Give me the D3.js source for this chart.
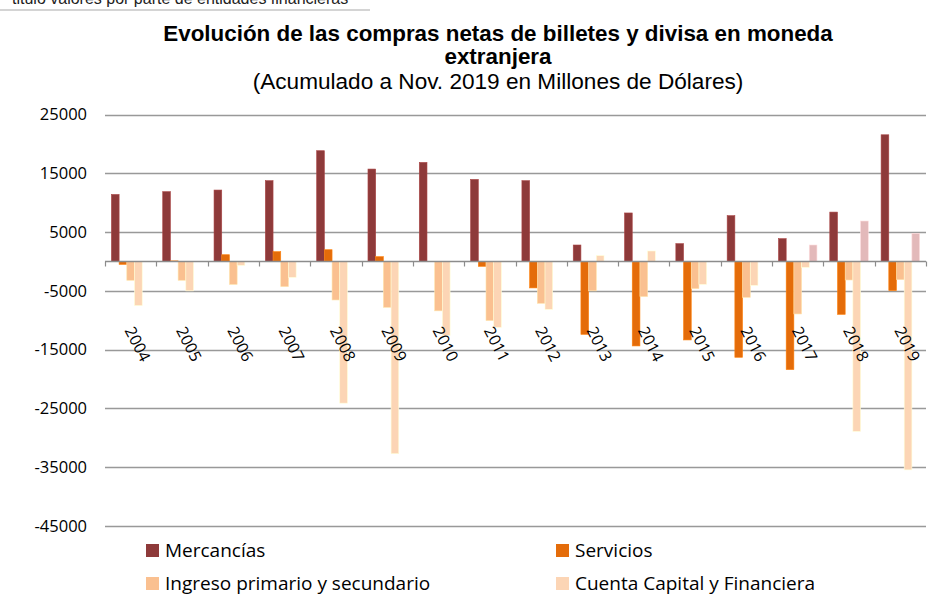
<!DOCTYPE html>
<html>
<head>
<meta charset="utf-8">
<script src="https://cdn.jsdelivr.net/npm/d3@7"></script>
<style>
  body { margin: 0; background: #fff; }
  svg { display: block; }
</style>
</head>
<body>
<svg id="chart" width="935" height="596"></svg>
<script>
// years on the x axis
var years = ['2004', '2005', '2006', '2007', '2008', '2009', '2010', '2011',
  '2012', '2013', '2014', '2015', '2016', '2017', '2018', '2019'];

// millones de dolares
var mercancias = [11400, 11870, 12150, 13740, 18840, 15720, 16850, 13960,
  13740, 2800, 8250, 3030, 7790, 3880, 8400, 21550];
var servicios = [-500, 100, 1150, 1670, 2000, 820, 0, -830,
  -4500, -12400, -14370, -13350, -16300, -18400, -9000, -4960];
var ingreso = [-3200, -3200, -3900, -4280, -6550, -7800, -8400, -10060,
  -7120, -5000, -5980, -4620, -6100, -8930, -3150, -3100];
var cuenta = [-7500, -5000, -660, -2700, -24100, -32700, -12600, -11200,
  -8140, 990, 1780, -3890, -4060, -1000, -28900, -35450];
// fifth series, not in the legend
var otros = [0, 0, 0, 0, 0, 0, 0, 0, 0, 0, 0, 0, 0, 2800, 6880, 4780];

var yTicks = [25000, 15000, 5000, -5000, -15000, -25000, -35000, -45000];

var series = [
  { name: 'Mercancías', values: mercancias, color: '#8e3a3a', legend: true },
  { name: 'Servicios', values: servicios, color: '#e46c0a', legend: true },
  { name: 'Ingreso primario y secundario', values: ingreso, color: '#fac090', legend: true },
  { name: 'Cuenta Capital y Financiera', values: cuenta, color: '#fcd5b5', legend: true },
  { name: 'Otros', values: otros, color: '#e3b9ba', legend: false }
];

var svg = d3.select('#chart');

// cut-off note at the very top
svg.append('text')
  .attr('x', 12).attr('y', 4)
  .style('font-family', 'Liberation Sans, Arial, sans-serif')
  .style('font-size', '16px')
  .attr('fill', '#222')
  .text('titulo valores por parte de entidades financieras');
svg.append('line')
  .attr('x1', 0).attr('x2', 370).attr('y1', 10).attr('y2', 10)
  .attr('stroke', '#aaa').attr('stroke-width', 1.2);

// title
var title = svg.append('g')
  .style('font-family', 'Liberation Sans, Arial, sans-serif')
  .attr('text-anchor', 'middle')
  .attr('fill', '#000');
title.append('text').attr('x', 498).attr('y', 41)
  .style('font-size', '22.4px').style('font-weight', 'bold')
  .text('Evolución de las compras netas de billetes y divisa en moneda');
title.append('text').attr('x', 498).attr('y', 64)
  .style('font-size', '22.4px').style('font-weight', 'bold')
  .text('extranjera');
title.append('text').attr('x', 498).attr('y', 89)
  .style('font-size', '22.6px')
  .text('(Acumulado a Nov. 2019 en Millones de Dólares)');

var x0 = d3.scaleBand()
  .domain(years)
  .range([105, 926])
  .padding(0);

var x1 = d3.scaleBand()
  .domain(series.map(function(s) { return s.name; }))
  .range([x0.bandwidth() * 0.125, x0.bandwidth() * 0.875])
  .padding(0);

var y = d3.scaleLinear()
  .domain([-45000, 25000])
  .range([526, 114.5]);

// gridlines
svg.append('g').selectAll('line')
  .data(yTicks)
  .enter().append('line')
  .attr('x1', 105).attr('x2', 926)
  .attr('y1', function(d) { return Math.round(y(d)) + 0.5; })
  .attr('y2', function(d) { return Math.round(y(d)) + 0.5; })
  .attr('stroke', '#999').attr('stroke-width', 1.3);

// y labels
svg.append('g').selectAll('text')
  .data(yTicks)
  .enter().append('text')
  .attr('x', 87)
  .attr('y', function(d) { return y(d); })
  .attr('dy', '0.35em')
  .attr('text-anchor', 'end')
  .style('font-family', 'Open Sans, sans-serif')
  .style('font-size', '16.5px')
  .attr('fill', '#000')
  .text(function(d) { return d; });

// bars
var groups = svg.append('g').selectAll('g')
  .data(series)
  .enter().append('g')
  .attr('fill', function(s) { return s.color; });

groups.selectAll('rect')
  .data(function(s) {
    return s.values.map(function(v, i) { return { name: s.name, year: years[i], value: v, color: s.color }; });
  })
  .enter().append('rect')
  .attr('x', function(d) { return x0(d.year) + x1(d.name); })
  .attr('width', x1.bandwidth())
  .attr('y', function(d) { return y(Math.max(d.value, 0)); })
  .attr('height', function(d) { return Math.abs(y(d.value) - y(0)); })
  .attr('stroke', function(d) { return d3.color(d.color).brighter(0.5); })
  .attr('stroke-width', 0.6);

// x axis at zero
var zeroY = Math.round(y(0)) + 0.5;
svg.append('line')
  .attr('x1', 105).attr('x2', 926)
  .attr('y1', zeroY).attr('y2', zeroY)
  .attr('stroke', '#8c8c8c').attr('stroke-width', 1.6);

var bounds = years.map(function(d) { return x0(d); }).concat([926]);
svg.append('g').selectAll('line')
  .data(bounds)
  .enter().append('line')
  .attr('x1', function(d) { return Math.round(d) + 0.5; })
  .attr('x2', function(d) { return Math.round(d) + 0.5; })
  .attr('y1', zeroY).attr('y2', zeroY + 5)
  .attr('stroke', '#8c8c8c').attr('stroke-width', 1.2);

// year labels, rotated
svg.append('g').selectAll('text')
  .data(years)
  .enter().append('text')
  .attr('transform', function(d) {
    return 'translate(' + (x0(d) + x0.bandwidth() / 2 + 7) + ',344) rotate(63)';
  })
  .attr('text-anchor', 'middle')
  .attr('dy', '0.35em')
  .style('font-family', 'Open Sans, sans-serif')
  .style('font-size', '16px')
  .attr('fill', '#000')
  .text(function(d) { return d; });

// legend
var legendPos = [[146, 544], [556, 544], [146, 577], [556, 577]];
var legend = svg.append('g').selectAll('g')
  .data(series.filter(function(s) { return s.legend; }))
  .enter().append('g')
  .attr('transform', function(d, i) { return 'translate(' + legendPos[i][0] + ',' + legendPos[i][1] + ')'; });

legend.append('rect')
  .attr('width', 13).attr('height', 13)
  .attr('fill', function(d) { return d.color; });

legend.append('text')
  .attr('x', 19).attr('y', 6.5)
  .attr('dy', '0.35em')
  .style('font-family', 'Open Sans, sans-serif')
  .style('font-size', '19px')
  .attr('fill', '#000')
  .text(function(d) { return d.name; });
</script>
</body>
</html>
